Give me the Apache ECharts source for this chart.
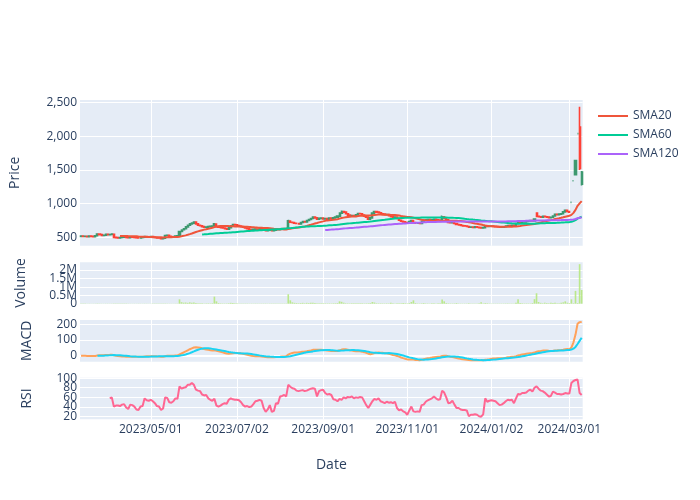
<!DOCTYPE html>
<html><head><meta charset="utf-8">
<script src="https://cdn.jsdelivr.net/npm/echarts@6/dist/echarts.min.js"></script>
<style>html,body{margin:0;padding:0;background:#fff}#c{width:700px;height:500px}</style>
</head><body><div id="c"></div>
<script>
// ---- trading calendar (Tokyo market days) ----
const startDate = '2023-03-13';
const endDate = '2024-03-11';
const holidays = ['2023-03-21','2023-05-03','2023-05-04','2023-05-05','2023-07-17','2023-08-11','2023-09-18','2023-10-09','2023-11-03','2023-11-23','2024-01-01','2024-01-02','2024-01-03','2024-01-08','2024-02-12','2024-02-23'];
// ---- x tick positions / labels ----
const tickDates = ['2023/05/01','2023/07/03','2023/09/01','2023/11/01','2024/01/04','2024/03/01'];
const tickLabels = ['2023/05/01','2023/07/02','2023/09/01','2023/11/01','2024/01/02','2024/03/01'];
// ---- OHLC ----
const open = [
515,520,512,515,508,518,515,510,525,548,
540,528,532,545,538,542,545,500,496,492,
498,503,505,498,494,506,503,500,495,492,
500,502,512,510,508,512,505,498,492,490,
480,486,528,530,515,510,505,520,525,588,
612,628,655,680,700,712,728,700,680,672,
660,650,652,660,665,668,698,660,652,645,
638,630,622,645,670,690,685,675,668,660,
650,640,628,618,612,620,625,622,628,620,
605,598,606,615,600,605,618,612,625,630,
628,640,742,725,720,710,705,700,720,735,
730,750,765,780,800,790,770,782,785,775,
780,770,785,778,790,800,815,860,885,875,
850,830,820,825,818,835,855,850,830,815,
800,770,790,860,885,875,865,850,845,838,
840,820,805,795,800,780,755,740,730,720,
712,735,750,718,710,712,705,740,755,760,
765,758,762,768,760,758,758,805,785,760,
722,718,722,705,690,685,675,670,668,662,
650,652,648,655,650,645,640,645,668,662,
665,668,663,660,655,650,652,658,668,675,
672,678,672,705,722,718,728,730,735,742,
748,745,862,812,805,800,812,805,800,792,
798,818,842,836,845,850,878,900,885,1020,
1340,1430,2040,2140,1290];
const high = [
525,522,518,517,522,520,517,525,555,552,
542,538,550,548,546,552,546,503,499,502,
506,509,507,500,509,508,505,502,497,503,
506,516,515,512,515,513,507,500,495,492,
489,535,538,532,518,512,524,528,592,618,
635,662,686,706,720,735,730,704,684,675,
662,658,664,670,672,712,700,664,655,648,
640,633,648,675,696,694,688,679,670,662,
652,642,630,621,624,629,628,632,630,622,
607,610,618,616,609,622,620,628,634,633,
636,760,748,730,722,714,708,725,740,738,
755,770,786,808,804,792,786,790,788,784,
782,789,788,795,805,820,868,900,890,878,
852,834,830,828,840,862,860,852,833,818,
802,795,868,892,888,878,868,854,848,845,
842,822,808,805,802,782,758,743,733,724,
740,756,752,721,716,714,745,760,765,770,
768,767,772,770,763,760,825,808,788,762,
724,727,724,707,693,687,678,673,670,664,
656,654,658,657,652,648,648,672,670,669,
672,670,666,662,658,656,662,672,679,678,
682,680,710,745,726,732,735,739,747,752,
752,775,868,815,810,816,815,808,802,803,
823,850,846,850,855,885,905,902,890,1020,
1340,1640,2040,2440,1485];
const low = [
510,508,508,505,506,512,507,508,522,535,
525,524,530,535,534,538,496,490,488,490,
495,500,495,490,492,500,497,492,488,490,
497,500,506,504,505,502,495,489,486,476,
477,485,522,512,506,502,503,515,522,582,
605,624,650,676,695,708,695,675,668,655,
645,646,650,656,660,665,655,648,640,634,
625,618,620,642,666,680,670,664,655,645,
636,624,614,608,610,617,618,620,616,600,
594,596,603,596,597,603,608,610,622,624,
625,638,718,714,705,700,694,698,716,725,
728,746,760,776,785,765,768,778,770,771,
765,768,774,775,786,796,812,856,870,845,
825,815,816,812,815,832,845,825,810,795,
765,768,788,856,870,860,846,840,833,832,
815,800,790,792,775,750,735,725,715,706,
710,732,714,705,705,700,703,736,750,755,
754,754,758,756,754,750,756,780,755,718,
711,714,700,686,680,670,666,663,658,645,
646,643,645,646,640,636,637,643,658,658,
661,659,656,651,646,647,649,655,665,668,
669,668,670,702,714,715,724,726,732,738,
740,743,805,798,795,797,800,795,787,789,
795,815,830,832,840,848,872,880,866,1020,
1340,1420,2040,1500,1270];
const close = [
520,512,515,508,518,515,510,522,548,540,
528,532,545,538,542,548,500,495,492,498,
503,505,498,494,506,503,500,495,492,500,
502,512,510,508,512,505,498,492,490,480,
485,528,530,515,510,505,520,522,585,610,
628,655,680,700,712,728,700,680,672,660,
650,652,660,665,668,700,660,652,645,638,
630,622,645,670,690,685,675,668,660,650,
640,628,618,612,620,625,622,628,620,605,
598,606,615,600,605,618,612,625,630,628,
632,745,725,720,710,705,700,720,735,730,
750,765,780,800,790,770,782,785,775,780,
770,785,778,790,800,815,860,885,875,850,
830,820,825,818,835,855,850,830,815,800,
770,790,860,885,875,865,850,845,838,840,
820,805,795,800,780,755,740,730,720,712,
735,750,718,710,712,705,740,755,760,765,
758,762,768,760,758,755,805,785,760,722,
718,722,705,690,685,675,670,668,662,650,
652,648,655,650,645,640,645,668,662,665,
668,663,660,655,650,652,658,668,675,672,
678,672,705,722,718,728,730,735,742,748,
745,770,812,805,800,812,805,800,792,798,
818,842,836,845,850,878,900,885,872,1020,
1340,1640,2040,1525,1470];
// ---- volume ----
const volume = [
12000,8000,9000,7000,10000,6000,8000,9000,15000,11000,
8000,7000,10000,9000,8000,9000,14000,10000,8000,7000,
6000,7000,8000,9000,7000,6000,8000,7000,9000,8000,
7000,10000,8000,6000,7000,8000,9000,8000,7000,10000,
9000,18000,12000,9000,8000,7000,10000,12000,260000,90000,
60000,70000,50000,80000,60000,70000,40000,30000,25000,20000,
18000,22000,25000,20000,30000,420000,140000,40000,25000,20000,
18000,20000,30000,50000,40000,25000,20000,18000,15000,15000,
14000,15000,12000,14000,12000,15000,13000,12000,14000,15000,
16000,12000,14000,15000,13000,14000,12000,15000,18000,14000,
16000,560000,200000,80000,50000,40000,30000,40000,50000,30000,
50000,40000,50000,60000,35000,30000,28000,25000,30000,25000,
22000,25000,20000,28000,30000,40000,140000,110000,60000,30000,
25000,22000,20000,25000,28000,30000,25000,22000,20000,25000,
30000,40000,100000,70000,30000,25000,25000,22000,20000,25000,
22000,50000,20000,18000,20000,25000,22000,40000,30000,25000,
40000,100000,200000,40000,20000,18000,25000,40000,22000,20000,
18000,20000,22000,18000,20000,30000,250000,140000,40000,25000,
20000,18000,22000,40000,18000,15000,14000,15000,16000,20000,
15000,14000,16000,15000,20000,80000,20000,40000,30000,18000,
15000,14000,13000,15000,14000,15000,16000,18000,20000,15000,
16000,18000,60000,260000,40000,25000,20000,22000,20000,18000,
40000,270000,620000,100000,50000,30000,60000,40000,30000,50000,
40000,60000,30000,30000,50000,80000,140000,60000,40000,260000,
30000,760000,40000,2350000,815000];
// ---- RSI (14) ----
const rsi = [
null,null,null,null,null,null,null,null,null,null,null,null,null,null,
58,60,41,43,43,42,45,46,39,36,
45,44,41,35,34,41,42,58,54,53,
55,52,48,42,41,34,37,60,59,50,
49,52,58,57,83,78,80,81,86,86,
90,86,76,74,73,66,64,65,58,55,
53,57,43,41,43,46,48,47,55,58,
56,55,55,54,50,44,41,42,40,41,
46,52,53,55,53,38,30,35,44,30,
32,48,47,62,63,65,62,86,82,79,
78,74,73,74,75,73,74,76,78,79,
78,62,73,75,76,69,66,67,65,56,
55,52,57,55,60,58,61,60,62,58,
60,59,61,60,52,44,38,45,52,57,
55,58,52,50,48,51,49,50,48,51,
38,33,35,31,29,24,33,41,31,30,
31,30,44,45,51,54,56,58,62,58,
55,56,74,70,60,48,49,53,45,38,
38,35,34,34,33,21,24,24,25,24,
21,20,25,58,51,53,54,53,52,48,
44,45,48,52,55,54,55,48,58,67,
66,69,69,70,74,76,72,80,83,78,
74,73,70,66,62,63,72,70,67,67,
66,67,69,68,68,90,94,96,97,69,
65];

function pad2(n){return n<10?'0'+n:''+n;}
function buildDates(start,end,hol){
  const out=[]; const hs=new Set(hol);
  let d=new Date(start+'T00:00:00Z'); const e=new Date(end+'T00:00:00Z');
  while(d<=e){
    const wd=d.getUTCDay();
    const s=d.getUTCFullYear()+'-'+pad2(d.getUTCMonth()+1)+'-'+pad2(d.getUTCDate());
    if(wd!==0&&wd!==6&&!hs.has(s)) out.push(s.replace(/-/g,'/'));
    d=new Date(d.getTime()+86400000);
  }
  return out;
}
const dates = buildDates(startDate,endDate,holidays);
function sma(arr,n){return arr.map((v,i)=>{if(i<n-1||arr[i]==null)return null;let s=0;for(let k=i-n+1;k<=i;k++){if(arr[k]==null)return null;s+=arr[k];}return s/n;});}
function ema(arr,n){const a=2/(n+1);const out=[];arr.forEach((v,i)=>{out.push(i===0?v:a*v+(1-a)*out[i-1]);});return out;}
const sma20=sma(close,20), sma60=sma(close,60), sma120=sma(close,120);
const e12=ema(close,12), e26=ema(close,26);
const macd=e12.map((v,i)=>v-e26[i]);
const signal=sma(macd,9);
const candles=dates.map((d,i)=>[open[i],close[i],low[i],high[i]]);
const tickIdx=new Set(tickDates.map(d=>dates.indexOf(d)));
const labelOf={}; tickDates.forEach((d,k)=>labelOf[d]=tickLabels[k]);

const TXT='#2a3f5f', FONT='"Open Sans", verdana, arial, sans-serif';
const L=80, R=117.3;
const grids=[
  {left:L,right:R,top:100,height:145.7},
  {left:L,right:R,top:262.3,height:41.4},
  {left:L,right:R,top:320,height:41.7},
  {left:L,right:R,top:377.7,height:41.6}
].map(g=>Object.assign(g,{show:true,backgroundColor:'#E5ECF6',borderWidth:0}));
function xAx(gi){
  return {type:'category',gridIndex:gi,data:dates,boundaryGap:true,
    axisLine:{show:false},axisTick:{show:false},
    axisLabel:{show:gi===3,interval:(i)=>tickIdx.has(i),formatter:(v)=>labelOf[v]||v,color:TXT,fontFamily:FONT,fontSize:12,margin:4},
    splitLine:{show:true,alignWithLabel:true,interval:(i)=>tickIdx.has(i),lineStyle:{color:'#fff',width:1}},
    name:gi===3?'Date':'',nameLocation:'middle',nameGap:39,nameTextStyle:{color:TXT,fontFamily:FONT,fontSize:14}};
}
function yAx(gi,name,gap,o){
  return Object.assign({type:'value',gridIndex:gi,position:'left',offset:0,name:name,nameLocation:'middle',nameGap:gap,
    nameTextStyle:{color:TXT,fontFamily:FONT,fontSize:14},
    axisLine:{show:false},axisTick:{show:false},
    axisLabel:{color:TXT,fontFamily:FONT,fontSize:12,margin:3,showMinLabel:false,showMaxLabel:false,hideOverlap:false},
    splitLine:{show:true,showMinLine:false,showMaxLine:false,lineStyle:{color:'#fff',width:1}}},o);
}
const volFmt=(v)=>v===0?'0':(v/1e6)+'M';
const yAxes=[
  yAx(0,'Price',58,{min:376,max:2540,splitNumber:5}),
  yAx(1,'Volume',52,{min:0,max:2460000,interval:1000000}),
  yAx(2,'MACD',46,{min:-38,max:227,splitNumber:3}),
  yAx(3,'RSI',46,{min:14.6,max:100.8,splitNumber:5}),
  // companion axis on the volume panel carrying the 0.5M / 1.5M labels
  yAx(1,'',0,{min:0,max:2460000,splitNumber:5,minInterval:500000,maxInterval:500000})
];
yAxes[0].axisLabel.formatter=(v)=>v.toLocaleString('en-US');
yAxes[1].axisLabel.formatter=volFmt;
yAxes[1].axisLabel.showMinLabel=true;
yAxes[1].splitLine.show=false;
yAxes[4].axisLabel.formatter=(v)=>(v===500000||v===1500000)?volFmt(v):'';
yAxes[4].splitLine.show=false;

const lineS=(name,data,color,xi,yi)=>({name,type:'line',data,xAxisIndex:xi,yAxisIndex:yi,showSymbol:false,symbol:'none',
  lineStyle:{color,width:2},itemStyle:{color},connectNulls:false,z:3});
const volTicks=[500000,1000000,1500000,2000000];

const option={
  animation:false,
  textStyle:{fontFamily:FONT},
  grid:grids,
  xAxis:[xAx(0),xAx(1),xAx(2),xAx(3)],
  yAxis:yAxes,
  legend:{data:[
      {name:'SMA20',icon:'path://M0,0L30,0L30,2L0,2Z'},
      {name:'SMA60',icon:'path://M0,0L30,0L30,2L0,2Z'},
      {name:'SMA120',icon:'path://M0,0L30,0L30,2L0,2Z'}],
    orient:'vertical',left:593,top:105,itemWidth:30,itemHeight:2,itemGap:7,
    textStyle:{color:TXT,fontFamily:FONT,fontSize:12},selectedMode:false},
  series:[
    {name:'Price',type:'candlestick',data:candles,xAxisIndex:0,yAxisIndex:0,barWidth:'75%',z:2,
     itemStyle:{color:'#3D9970',color0:'#FF4136',borderColor:'#3D9970',borderColor0:'#FF4136',borderColorDoji:'#3D9970',borderWidth:1.6}},
    lineS('SMA20',sma20,'#EF553B',0,0),
    lineS('SMA60',sma60,'#00CC96',0,0),
    lineS('SMA120',sma120,'#AB63FA',0,0),
    {name:'Volume',type:'bar',data:volume,xAxisIndex:1,yAxisIndex:1,barWidth:'80%',z:2,itemStyle:{color:'#B6E880',opacity:0.9},
     markLine:{silent:true,symbol:'none',label:{show:false},lineStyle:{color:'#fff',width:1,type:'solid'},data:volTicks.map(v=>({yAxis:v})),z:1}},
    Object.assign(lineS('MACD',macd,'#FFA15A',2,2),{markLine:{silent:true,symbol:'none',label:{show:false},lineStyle:{color:'#fff',width:2,type:'solid'},data:[{yAxis:0}],z:1}}),
    lineS('Signal',signal,'#19D3F3',2,2),
    lineS('RSI',rsi,'#FF6692',3,3)
  ]
};
const chart=echarts.init(document.getElementById('c'),null,{renderer:'canvas'});
chart.setOption(option);
</script></body></html>
